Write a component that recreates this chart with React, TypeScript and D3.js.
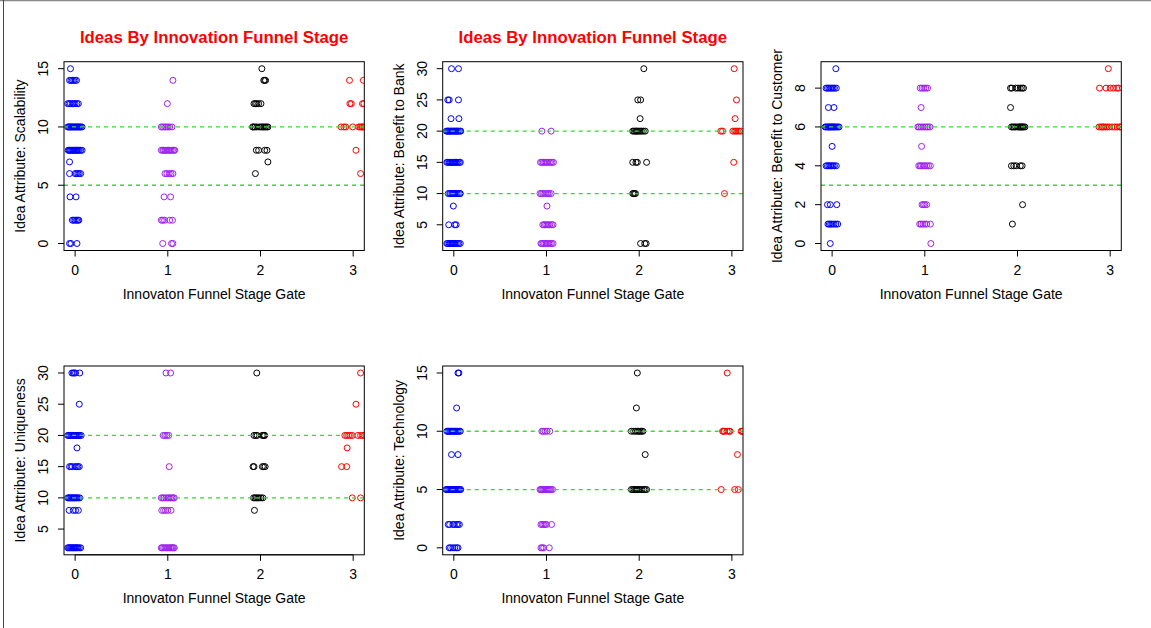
import React from "react";
import * as d3 from "d3";

type Group = [number, number, number[]];

const stageTicks = [0, 1, 2, 3];
const stageColors = ["#0000FF", "#A020F0", "#000000", "#FF0000"];
const chartTitle = "Ideas By Innovation Funnel Stage";
const xTitle = "Innovaton Funnel Stage Gate";

// [stage, value, jitter offsets]
const scalabilityData: Group[] = [
  [0, 15, [-0.05]],
  [0, 14, [-0.06, -0.045, -0.03, -0.015, 0.0, 0.015]],
  [0, 12, [-0.08, -0.065, -0.05, -0.03, -0.015, 0.0, 0.02, 0.035]],
  [0, 10, [-0.08, -0.07, -0.06, -0.05, -0.04, -0.03, -0.02, -0.01, 0.0, 0.01, 0.02, 0.03, 0.04, 0.05, 0.06, 0.075]],
  [0, 8, [-0.075, -0.065, -0.055, -0.045, -0.035, -0.025, -0.015, -0.005, 0.005, 0.015, 0.025, 0.035, 0.045, 0.06, 0.075]],
  [0, 7, [-0.06]],
  [0, 6, [-0.06, 0.0, 0.015, 0.03, 0.045, 0.06]],
  [0, 4, [-0.055, 0.01]],
  [0, 2, [-0.03, -0.015, 0.0, 0.015, 0.03, 0.04]],
  [0, 0, [-0.06, -0.045, 0.02]],
  [1, 14, [0.055]],
  [1, 12, [-0.005]],
  [1, 10, [-0.07, -0.055, -0.035, -0.02, 0.0, 0.02, 0.045]],
  [1, 8, [-0.07, -0.055, -0.045, -0.03, -0.02, -0.005, 0.01, 0.02, 0.035, 0.05, 0.065, 0.075]],
  [1, 6, [-0.03, -0.01, 0.015, 0.035, 0.055]],
  [1, 4, [-0.04, 0.03]],
  [1, 2, [-0.07, -0.055, -0.035, 0.02, 0.05]],
  [1, 0, [-0.055, 0.04, 0.055]],
  [2, 15, [0.015]],
  [2, 14, [0.035, 0.045, 0.055]],
  [2, 12, [-0.07, -0.055, -0.04, -0.02, 0.005]],
  [2, 10, [-0.085, -0.075, -0.06, -0.04, -0.015, 0.005, 0.02, 0.035, 0.05, 0.065, 0.08]],
  [2, 8, [-0.045, -0.02, 0.045, 0.07]],
  [2, 7, [0.08]],
  [2, 6, [-0.055]],
  [3, 14, [-0.04, 0.11]],
  [3, 12, [-0.035, -0.02, 0.1, 0.115]],
  [3, 10, [-0.13, -0.1, -0.08, -0.005, 0.06, 0.075, 0.09, 0.1, 0.115]],
  [3, 8, [0.03]],
  [3, 6, [0.08]],
];

const bankData: Group[] = [
  [0, 30, [-0.025, 0.05]],
  [0, 25, [-0.065, -0.05, 0.05]],
  [0, 22, [-0.03, 0.055]],
  [0, 20, [-0.08, -0.07, -0.06, -0.05, -0.04, -0.03, -0.02, -0.01, 0, 0.01, 0.02, 0.03, 0.04, 0.05, 0.065, 0.075]],
  [0, 15, [-0.075, -0.065, -0.05, -0.04, -0.03, -0.02, -0.01, 0, 0.01, 0.02, 0.03, 0.045, 0.06, 0.07]],
  [0, 10, [-0.06, -0.045, -0.035, -0.02, -0.01, 0, 0.01, 0.02, 0.035, 0.05, 0.065, 0.07]],
  [0, 8, [-0.005]],
  [0, 5, [-0.055, 0.01, 0.025]],
  [0, 2, [-0.075, -0.065, -0.05, -0.04, -0.03, -0.02, -0.01, 0, 0.01, 0.025, 0.04, 0.055, 0.07]],
  [1, 20, [-0.05, 0.05]],
  [1, 15, [-0.065, -0.05, -0.035, -0.02, -0.005, 0.01, 0.03, 0.045, 0.06, 0.075]],
  [1, 10, [-0.07, -0.055, -0.04, -0.02, 0, 0.015, 0.03, 0.05]],
  [1, 8, [0.005]],
  [1, 5, [-0.04, -0.025, -0.01, 0.005, 0.02, 0.035, 0.055, 0.07]],
  [1, 2, [-0.06, -0.05, -0.035, -0.02, -0.005, 0.01, 0.025, 0.04, 0.055, 0.07]],
  [2, 30, [0.05]],
  [2, 25, [-0.015, 0.015]],
  [2, 22, [0.01]],
  [2, 20, [-0.07, -0.055, -0.04, -0.03, -0.02, -0.005, 0.01, 0.025, 0.045, 0.065]],
  [2, 15, [-0.07, -0.035, -0.02, 0.08]],
  [2, 10, [-0.07, -0.06, -0.05, -0.04]],
  [2, 2, [0.015, 0.06, 0.075]],
  [3, 30, [0.025]],
  [3, 25, [0.05]],
  [3, 22, [0.035]],
  [3, 20, [-0.12, -0.1, 0.01, 0.03, 0.045, 0.06, 0.08, 0.1]],
  [3, 15, [0.02]],
  [3, 10, [-0.08]],
];

const customerData: Group[] = [
  [0, 9, [0.04]],
  [0, 8, [-0.065, -0.05, -0.035, -0.02, -0.005, 0.01, 0.025, 0.045]],
  [0, 7, [-0.04, 0.02]],
  [0, 6, [-0.075, -0.065, -0.05, -0.04, -0.03, -0.02, -0.01, 0, 0.01, 0.02, 0.03, 0.045, 0.06, 0.075]],
  [0, 5, [0.0]],
  [0, 4, [-0.065, -0.05, -0.035, -0.02, -0.005, 0.01, 0.025, 0.045]],
  [0, 2, [-0.05, -0.02, 0.05]],
  [0, 1, [-0.045, -0.03, -0.015, 0.0, 0.02, 0.04, 0.06]],
  [0, 0, [-0.02]],
  [1, 8, [-0.05, -0.03, -0.01, 0.01, 0.03]],
  [1, 7, [-0.04]],
  [1, 6, [-0.075, -0.06, -0.04, -0.02, 0.0, 0.02, 0.035, 0.055]],
  [1, 5, [-0.035]],
  [1, 4, [-0.065, -0.05, -0.035, -0.015, 0.0, 0.02, 0.04, 0.06]],
  [1, 2, [-0.03, -0.015, 0.0, 0.02]],
  [1, 1, [-0.055, -0.04, -0.02, 0.0, 0.02, 0.06]],
  [1, 0, [0.065]],
  [2, 8, [-0.075, -0.06, -0.02, 0.005, 0.03, 0.05, 0.065]],
  [2, 7, [-0.075]],
  [2, 6, [-0.065, -0.05, -0.035, -0.02, 0.0, 0.015, 0.025, 0.035, 0.045, 0.055, 0.065, 0.08]],
  [2, 4, [-0.065, -0.04, -0.015, 0.03, 0.05]],
  [2, 2, [0.055]],
  [2, 1, [-0.055]],
  [3, 9, [-0.02]],
  [3, 8, [-0.115, -0.045, 0.0, 0.035, 0.07, 0.09]],
  [3, 6, [-0.12, -0.1, -0.085, -0.07, -0.05, -0.03, -0.01, 0.02, 0.05, 0.075, 0.1, 0.115]],
];

const uniquenessData: Group[] = [
  [0, 30, [-0.035, -0.02, -0.01, 0.005, 0.05]],
  [0, 25, [0.045]],
  [0, 20, [-0.08, -0.07, -0.06, -0.05, -0.04, -0.03, -0.02, -0.01, 0, 0.01, 0.02, 0.03, 0.04, 0.05, 0.065]],
  [0, 18, [0.02]],
  [0, 15, [-0.06, -0.045, -0.03, 0.0, 0.015, 0.03, 0.045]],
  [0, 10, [-0.08, -0.07, -0.06, -0.05, -0.04, -0.03, -0.02, -0.01, 0, 0.01, 0.02, 0.035, 0.05]],
  [0, 8, [-0.065, -0.02, 0.005, 0.035]],
  [0, 2, [-0.08, -0.07, -0.06, -0.05, -0.04, -0.03, -0.02, -0.01, 0, 0.01, 0.02, 0.03, 0.045, 0.06]],
  [1, 30, [-0.02, 0.03]],
  [1, 20, [-0.05, -0.03, -0.01, 0.01]],
  [1, 15, [0.015]],
  [1, 10, [-0.07, -0.055, -0.04, -0.02, 0.0, 0.015, 0.03, 0.045, 0.06, 0.07]],
  [1, 8, [-0.065, -0.045, -0.025, 0.0, 0.035]],
  [1, 2, [-0.07, -0.06, -0.045, -0.03, -0.015, 0, 0.015, 0.03, 0.04, 0.05, 0.06, 0.07]],
  [2, 30, [-0.04]],
  [2, 20, [-0.07, -0.05, -0.035, 0.02, 0.03, 0.04, 0.045]],
  [2, 15, [-0.08, -0.07, 0.02, 0.035, 0.05]],
  [2, 10, [-0.075, -0.06, -0.045, -0.03, -0.015, 0.005, 0.025]],
  [2, 8, [-0.065]],
  [3, 30, [0.08]],
  [3, 25, [0.03]],
  [3, 20, [-0.09, -0.07, -0.05, -0.03, -0.01, 0.05, 0.08, 0.1, 0.12]],
  [3, 18, [-0.065]],
  [3, 15, [-0.125, -0.07]],
  [3, 10, [-0.01, 0.08]],
];

const technologyData: Group[] = [
  [0, 15, [0.045, 0.055]],
  [0, 12, [0.03]],
  [0, 10, [-0.075, -0.065, -0.055, -0.045, -0.035, -0.025, -0.015, -0.005, 0.005, 0.015, 0.025, 0.035, 0.045, 0.06, 0.07]],
  [0, 8, [-0.025, 0.045]],
  [0, 5, [-0.085, -0.075, -0.065, -0.055, -0.045, -0.035, -0.025, -0.015, -0.005, 0.005, 0.015, 0.025, 0.035, 0.045, 0.055, 0.065, 0.075]],
  [0, 2, [-0.06, -0.045, -0.01, 0.005, 0.03, 0.045, 0.06]],
  [0, 0, [-0.05, -0.035, -0.01, 0.01, 0.03, 0.045]],
  [1, 10, [-0.05, -0.035, -0.015, 0.005, 0.035]],
  [1, 5, [-0.07, -0.06, -0.05, -0.04, -0.03, -0.02, -0.01, 0, 0.01, 0.02, 0.03, 0.04, 0.05, 0.065]],
  [1, 2, [-0.06, -0.045, -0.03, -0.015, 0.0, 0.055]],
  [1, 0, [-0.06, -0.045, -0.03, 0.03]],
  [2, 15, [-0.02]],
  [2, 12, [-0.03]],
  [2, 10, [-0.085, -0.06, -0.04, -0.02, -0.005, 0.01, 0.025, 0.04]],
  [2, 8, [0.065]],
  [2, 5, [-0.085, -0.07, -0.055, -0.04, -0.03, -0.02, -0.005, 0.01, 0.03, 0.05, 0.065, 0.08]],
  [3, 15, [-0.05]],
  [3, 10, [-0.1, -0.09, -0.08, -0.05, -0.03, -0.02, 0.1, 0.11, 0.12]],
  [3, 8, [0.06]],
  [3, 5, [-0.115, 0.03, 0.07]],
];

const panels = [
  { id: "p1", yLabel: "Idea Attribute: Scalability", data: scalabilityData, yRange: [0, 15], yTicks: [0, 5, 10, 15], refs: [10, 5], title: true },
  { id: "p2", yLabel: "Idea Attribute: Benefit to Bank", data: bankData, yRange: [2, 30], yTicks: [5, 10, 15, 20, 25, 30], refs: [20, 10], title: true },
  { id: "p3", yLabel: "Idea Attribute: Benefit to Customer", data: customerData, yRange: [0, 9], yTicks: [0, 2, 4, 6, 8], refs: [6, 3], title: false },
  { id: "p4", yLabel: "Idea Attribute: Uniqueness", data: uniquenessData, yRange: [2, 30], yTicks: [5, 10, 15, 20, 25, 30], refs: [20, 10], title: false },
  { id: "p5", yLabel: "Idea Attribute: Technology", data: technologyData, yRange: [0, 15], yTicks: [0, 5, 10, 15], refs: [10, 5], title: false },
];

const W = 1151;
const H = 628;
const FONT = "'Liberation Sans', Arial, Helvetica, sans-serif";
const colLeft = [64, 442.7, 821];
const rowTop = [61.7, 366];
const boxW = 300.3;
const boxH = 188.8;

function Panel({ p, idx }: { p: (typeof panels)[number]; idx: number }) {
  const col = idx % 3;
  const row = Math.floor(idx / 3);
  const x0 = colLeft[col];
  const y0 = rowTop[row];
  const x = d3.scaleLinear().domain([-0.12, 3.12]).range([x0, x0 + boxW]);
  const [lo, hi] = p.yRange;
  const pad = (hi - lo) * 0.04;
  const y = d3.scaleLinear().domain([lo - pad, hi + pad]).range([y0 + boxH, y0]);
  const pts: { cx: number; cy: number; color: string }[] = [];
  p.data.forEach(([stage, v, offs]) => {
    offs.forEach((o) => pts.push({ cx: x(stage + o), cy: y(v), color: stageColors[stage] }));
  });
  const bottom = y0 + boxH;
  const left = x0;
  return (
    <g>
      <defs>
        <clipPath id={`clip-${p.id}`}>
          <rect x={x0} y={y0} width={boxW} height={boxH} />
        </clipPath>
      </defs>
      {p.title && (
        <text x={x0 + boxW / 2} y={y0 - 19} textAnchor="middle" fill="#FF0000" fontWeight="bold" fontSize={16.8} fontFamily={FONT}>
          {chartTitle}
        </text>
      )}
      <g clipPath={`url(#clip-${p.id})`}>
        {pts.map((d, i) => (
          <circle key={i} cx={d.cx} cy={d.cy} r={3} fill="none" stroke={d.color} strokeWidth={1} />
        ))}
        {p.refs.map((r) => (
          <line key={r} x1={x0} x2={x0 + boxW} y1={y(r)} y2={y(r)} stroke="#33dd33" strokeWidth={1.3} strokeDasharray="4 4" />
        ))}
      </g>
      <rect x={x0} y={y0} width={boxW} height={boxH} fill="none" stroke="#000" strokeWidth={1} />
      {/* x axis */}
      <line x1={x(stageTicks[0])} x2={x(stageTicks[stageTicks.length - 1])} y1={bottom} y2={bottom} stroke="#000" />
      {stageTicks.map((t) => (
        <g key={t}>
          <line x1={x(t)} x2={x(t)} y1={bottom} y2={bottom + 6} stroke="#000" />
          <text x={x(t)} y={bottom + 24} textAnchor="middle" fontSize={14} fontFamily={FONT} fill="#000">
            {t}
          </text>
        </g>
      ))}
      <text x={x0 + boxW / 2} y={bottom + 48} textAnchor="middle" fontSize={14} fontFamily={FONT} fill="#000">
        {xTitle}
      </text>
      {/* y axis */}
      {p.yTicks.map((t) => (
        <g key={t}>
          <line x1={left - 6} x2={left} y1={y(t)} y2={y(t)} stroke="#000" />
          <text
            transform={`translate(${left - 16},${y(t)}) rotate(-90)`}
            textAnchor="middle"
            fontSize={14}
            fontFamily={FONT}
            fill="#000"
          >
            {t}
          </text>
        </g>
      ))}
      <text
        transform={`translate(${left - 39},${y0 + boxH / 2}) rotate(-90)`}
        textAnchor="middle"
        fontSize={14}
        fontFamily={FONT}
        fill="#000"
      >
        {p.yLabel}
      </text>
    </g>
  );
}

export default function App() {
  return (
    <svg width={W} height={H} style={{ position: "absolute", left: 0, top: 0, background: "#fff" }}>
      <rect x={0} y={0} width={W} height={H} fill="#fff" />
      <line x1={0} x2={W} y1={0.5} y2={0.5} stroke="#888" strokeWidth={1.5} />
      <line x1={3.5} x2={3.5} y1={0} y2={H} stroke="#444" strokeWidth={1} />
      {panels.map((p, i) => (
        <Panel key={p.id} p={p} idx={i} />
      ))}
    </svg>
  );
}
